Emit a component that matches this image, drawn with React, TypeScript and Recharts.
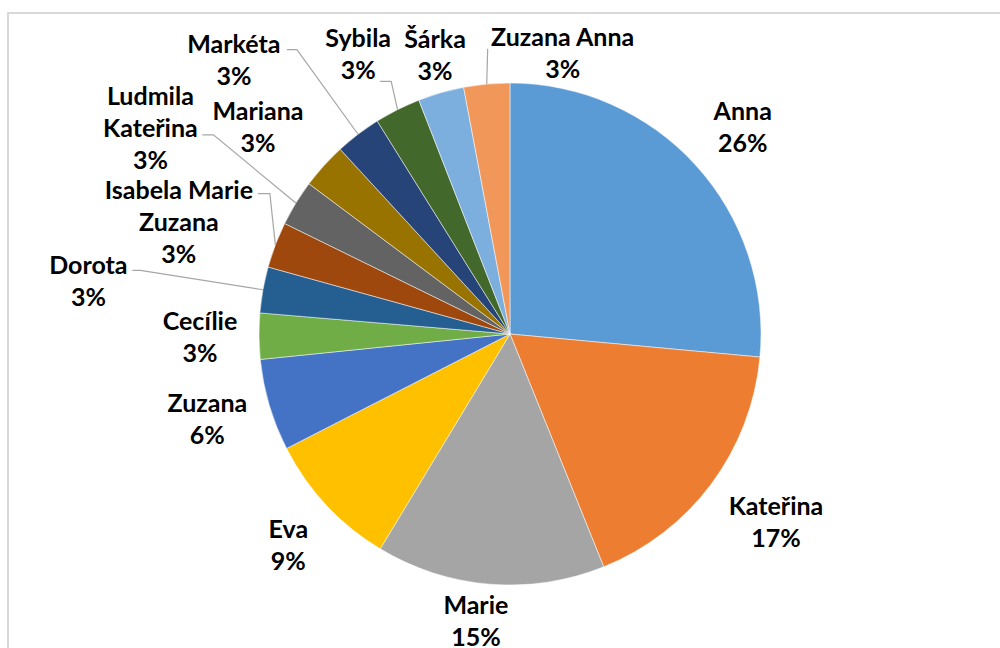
import React from "react";
import { PieChart, Pie, Cell } from "recharts";

const RADIAN = Math.PI / 180;

// girls' names, clockwise from 12 o'clock
const names = [
  "Anna",
  "Kateřina",
  "Marie",
  "Eva",
  "Zuzana",
  "Cecílie",
  "Dorota",
  "Isabela Marie Zuzana",
  "Ludmila Kateřina",
  "Mariana",
  "Markéta",
  "Sybila",
  "Šárka",
  "Zuzana Anna",
];

// share of each name (%)
const shares = [26.4, 17.4, 14.7, 8.8, 5.9, 2.95, 2.95, 2.95, 2.95, 2.95, 2.95, 2.95, 2.95, 2.95];

// Excel office palette
const COLORS = [
  "#5B9BD5", "#ED7D31", "#A5A5A5", "#FFC000", "#4472C4", "#70AD47", "#255E91",
  "#9E480E", "#636363", "#997300", "#264478", "#43682B", "#7CAFDD", "#F1975A",
];

const data = names.map((name, i) => ({ name, value: shares[i] }));

// where each label sits: distance from centre, shift from the slice middle (deg),
// and how many words go on the first line (0 = no wrap)
const LABEL_POS = [
  { r: 312, da: -0.6, wrap: 0 },
  { r: 325, da: 1.6, wrap: 0 },
  { r: 288, da: -2.2, wrap: 0 },
  { r: 305, da: 0.4, wrap: 0 },
  { r: 314, da: -1, wrap: 0 },
  { r: 310, da: -0.1, wrap: 0 },
  { r: 425, da: 2.9, wrap: 0 },
  { r: 350, da: 1.9, wrap: 2 },
  { r: 415, da: 1.5, wrap: 1 },
  { r: 327, da: 2.5, wrap: 0 },
  { r: 390, da: 7.8, wrap: 0 },
  { r: 319, da: 1.8, wrap: 0 },
  { r: 290, da: -1, wrap: 0 },
  { r: 287, da: -15.9, wrap: 0 },
];

// leader lines: start relative to label centre, then a short flat run, then to the slice
const LEADERS: Record<number, { dx: number; dy: number; h: number }> = {
  6: { dx: 44, dy: -10, h: 8 },
  7: { dx: 79, dy: -27, h: 12 },
  8: { dx: 52, dy: 8, h: 11 },
  10: { dx: 53, dy: -9, h: 10 },
  11: { dx: 22, dy: 28, h: 11 },
  13: { dx: -75, dy: -3, h: 0 },
};

const LINE_H = 32;

const renderLabel = ({ cx, cy, midAngle, outerRadius, index, percent }: any) => {
  const pos = LABEL_POS[index];
  const a = (midAngle + pos.da) * RADIAN;
  const lx = cx + pos.r * Math.cos(a);
  const ly = cy - pos.r * Math.sin(a);
  const words = names[index].split(" ");
  const lines = pos.wrap
    ? [words.slice(0, pos.wrap).join(" "), words.slice(pos.wrap).join(" ")]
    : [names[index]];
  lines.push(`${Math.round(percent * 100)}%`);
  const n = lines.length;

  let leader = null;
  const ld = LEADERS[index];
  if (ld) {
    const sx = lx + ld.dx;
    const sy = ly + ld.dy;
    const ex = cx + outerRadius * Math.cos(midAngle * RADIAN);
    const ey = cy - outerRadius * Math.sin(midAngle * RADIAN);
    leader = (
      <polyline
        points={`${sx},${sy} ${sx + ld.h},${sy} ${ex},${ey}`}
        fill="none"
        stroke="#a6a6a6"
        strokeWidth={1.2}
      />
    );
  }

  return (
    <g key={`lbl-${index}`}>
      {leader}
      {lines.map((t, i) => (
        <text
          key={i}
          x={lx}
          y={ly + (i - (n - 1) / 2) * LINE_H}
          textAnchor="middle"
          dominantBaseline="central"
          fill="#000"
          fontFamily="Lato, 'Open Sans', sans-serif"
          fontWeight={700}
          fontSize={25}
        >
          {t}
        </text>
      ))}
    </g>
  );
};

export default function App() {
  return (
    <div
      style={{
        position: "absolute",
        left: 0,
        top: 0,
        width: 1000,
        height: 648,
        overflow: "hidden",
        background: "#fff",
      }}
    >
      <div
        style={{
          position: "absolute",
          left: 7,
          top: 12,
          width: 1000,
          height: 700,
          border: "2px solid #d9d9d9",
        }}
      />
      <div style={{ position: "absolute", left: 0, top: 0 }}>
        <PieChart width={1000} height={648} margin={{ top: 0, right: 0, bottom: 0, left: 0 }}>
          <Pie
            data={data}
            dataKey="value"
            nameKey="name"
            cx={510}
            cy={334}
            outerRadius={251}
            startAngle={90}
            endAngle={-270}
            stroke="#ffffff"
            strokeWidth={0.5}
            labelLine={false}
            label={renderLabel}
            isAnimationActive={false}
          >
            {data.map((entry, index) => (
              <Cell key={`cell-${index}`} fill={COLORS[index]} />
            ))}
          </Pie>
        </PieChart>
      </div>
    </div>
  );
}
